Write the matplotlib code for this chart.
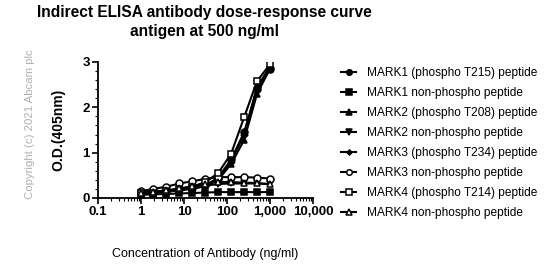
import matplotlib
matplotlib.use("Agg")
import matplotlib.pyplot as plt
from matplotlib.ticker import FixedLocator, FuncFormatter, LogLocator, MultipleLocator

plt.rcParams['font.family'] = ['Liberation Sans', 'DejaVu Sans']

conc = [0.98, 1.95, 3.9, 7.8, 15.6, 31.25, 62.5, 125, 250, 500, 1000]

labels = [
    "MARK1 (phospho T215) peptide",
    "MARK1 non-phospho peptide",
    "MARK2 (phospho T208) peptide",
    "MARK2 non-phospho peptide",
    "MARK3 (phospho T234) peptide",
    "MARK3 non-phospho peptide",
    "MARK4 (phospho T214) peptide",
    "MARK4 non-phospho peptide",
]

mark1_p = [0.12, 0.14, 0.16, 0.19, 0.22, 0.28, 0.45, 0.85, 1.45, 2.40, 2.85]
mark1_n = [0.07, 0.08, 0.09, 0.10, 0.11, 0.12, 0.13, 0.13, 0.13, 0.13, 0.13]
mark2_p = [0.10, 0.12, 0.14, 0.17, 0.20, 0.26, 0.40, 0.75, 1.28, 2.30, 2.85]
mark2_n = [0.10, 0.12, 0.15, 0.18, 0.22, 0.27, 0.31, 0.32, 0.32, 0.32, 0.31]
mark3_p = [0.11, 0.13, 0.15, 0.18, 0.21, 0.27, 0.43, 0.80, 1.40, 2.45, 2.90]
mark3_n = [0.15, 0.20, 0.25, 0.32, 0.37, 0.42, 0.46, 0.46, 0.46, 0.45, 0.43]
mark4_p = [0.10, 0.12, 0.15, 0.20, 0.25, 0.35, 0.55, 0.98, 1.78, 2.58, 2.95]
mark4_n = [0.12, 0.14, 0.17, 0.21, 0.26, 0.31, 0.36, 0.35, 0.34, 0.33, 0.30]

series = [mark1_p, mark1_n, mark2_p, mark2_n, mark3_p, mark3_n, mark4_p, mark4_n]
markers = ['o', 's', '^', 'v', 'D', 'o', 's', '^']
fills = ['black', 'black', 'black', 'black', 'black', 'white', 'white', 'white']
msizes = [5, 5, 5, 5, 3.2, 5, 5, 5]

fig = plt.figure(figsize=(5.53, 2.68), dpi=100)
ax = fig.add_axes([98/553, 1-198/268, 215/553, 136/268])

for y, lab, m, fc, ms in zip(series, labels, markers, fills, msizes):
    ax.plot(conc, y, color='black', lw=1.5, marker=m, markerfacecolor=fc,
            markeredgecolor='black', markeredgewidth=1.1, markersize=ms, label=lab)

ax.set_xscale('log')
ax.set_xlim(0.1, 10000)
ax.set_ylim(0, 3)
ax.xaxis.set_major_locator(FixedLocator([0.1, 1, 10, 100, 1000, 10000]))
ax.xaxis.set_major_formatter(FuncFormatter(lambda v, p: ('%g' % v) if v < 1000 else '{:,.0f}'.format(v)))
ax.xaxis.set_minor_locator(LogLocator(base=10, subs=range(2, 10), numticks=20))
ax.yaxis.set_major_locator(MultipleLocator(1))
ax.yaxis.set_minor_locator(MultipleLocator(0.2))

for s in ['top', 'right']:
    ax.spines[s].set_visible(False)
for s in ['left', 'bottom']:
    ax.spines[s].set_linewidth(1.3)
ax.tick_params(which='major', length=4, width=1.2, labelsize=9.5, pad=2)
ax.tick_params(which='minor', length=2, width=0.8)
for t in ax.get_xticklabels() + ax.get_yticklabels():
    t.set_fontweight('bold')

ax.set_ylabel('O.D.(405nm)', fontsize=10, fontweight='bold', labelpad=12)
ax.set_xlabel('Concentration of Antibody (ng/ml)', fontsize=9, labelpad=21)

fig.text(204/553, 1-5/268, 'Indirect ELISA antibody dose-response curve\nantigen at 500 ng/ml',
         ha='center', va='top', fontsize=11.2, fontweight='bold', linespacing=1.3)

fig.text(30/553, 1-124/268, 'Copyright (c) 2021 Abcam plc', rotation=90, ha='center', va='center',
         fontsize=8.2, color='#b0b0b0')

leg = ax.legend(loc='upper left', bbox_to_anchor=(336/553, 1-62/268), bbox_transform=fig.transFigure,
                frameon=False, fontsize=8.6, handlelength=1.3, handletextpad=0.9,
                labelspacing=0.67, borderaxespad=0, markerscale=0.8)

fig.savefig('out.png', dpi=100)
